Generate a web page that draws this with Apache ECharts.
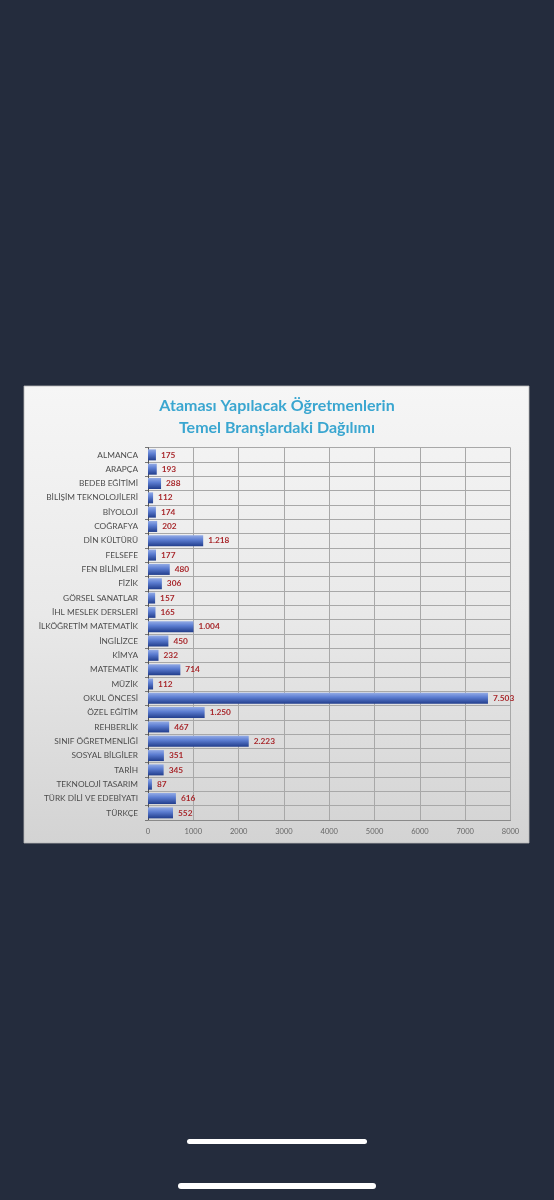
<!DOCTYPE html>
<html>
<head>
<meta charset="utf-8">
<script src="https://cdn.jsdelivr.net/npm/echarts@6/dist/echarts.min.js"></script>
<style>
html,body{margin:0;padding:0;background:#242c3d;}
#chart{width:554px;height:1200px;}
</style>
</head>
<body>
<div id="chart"></div>
<script>
const titleLines = ['Ataması Yapılacak Öğretmenlerin', 'Temel Branşlardaki Dağılımı'];
const categories = [
  'ALMANCA','ARAPÇA','BEDEB EĞİTİMİ','BİLİŞİM TEKNOLOJİLERİ','BİYOLOJİ','COĞRAFYA',
  'DİN KÜLTÜRÜ','FELSEFE','FEN BİLİMLERİ','FİZİK','GÖRSEL SANATLAR','İHL MESLEK DERSLERİ',
  'İLKÖĞRETİM MATEMATİK','İNGİLİZCE','KİMYA','MATEMATİK','MÜZİK','OKUL ÖNCESİ',
  'ÖZEL EĞİTİM','REHBERLİK','SINIF ÖĞRETMENLİĞİ','SOSYAL BİLGİLER','TARİH',
  'TEKNOLOJİ TASARIM','TÜRK DİLİ VE EDEBİYATI','TÜRKÇE'
];
const values = [175,193,288,112,174,202,1218,177,480,306,157,165,1004,450,232,714,112,7503,1250,467,2223,351,345,87,616,552];
const xMin = 0, xMax = 8000, xStep = 1000;

function trFormat(v){
  return String(v).replace(/\B(?=(\d{3})+(?!\d))/g, '.');
}

const titleGraphics = titleLines.map((t, i) => ({
  type: 'text', z: 10, silent: true,
  x: 277, y: 405.5 + i * 22,
  style: {text: t, fill: '#3aa6d0', font: 'bold 16px Lato', align: 'center', verticalAlign: 'middle'}
}));

const chart = echarts.init(document.getElementById('chart'), null, {renderer:'canvas'});
chart.setOption({
  backgroundColor: '#242c3d',
  animation: false,
  graphic: [
    {
      type: 'rect', z: -10, silent: true,
      shape: {x: 24, y: 386, width: 505, height: 457},
      style: {
        fill: {type:'linear', x:0, y:0, x2:0, y2:1, colorStops:[
          {offset:0, color:'#f6f6f6'}, {offset:0.5, color:'#e9e9e9'}, {offset:1, color:'#d3d3d3'}
        ]},
        stroke: '#b8b8b8', lineWidth: 0.8
      }
    },
    ...titleGraphics,
    {
      type: 'rect', silent: true,
      shape: {x: 187, y: 1139, width: 180, height: 5, r: 2.5},
      style: {fill: '#ffffff'}
    },
    {
      type: 'rect', silent: true,
      shape: {x: 178, y: 1183, width: 198, height: 6, r: 3},
      style: {fill: '#ffffff'}
    }
  ],
  grid: {left: 148, right: 43.5, top: 447.7, bottom: 380, containLabel: false},
  xAxis: {
    type: 'value', min: xMin, max: xMax, interval: xStep,
    axisLine: {show: true, lineStyle: {color: '#8a8a8a', width: 1}},
    axisTick: {show: false},
    splitLine: {show: true, lineStyle: {color: '#a8a8a8', width: 1}},
    axisLabel: {color: '#666', fontFamily: 'Lato', fontSize: 7.5, margin: 8, formatter: v => String(v)}
  },
  yAxis: {
    type: 'category', data: categories, inverse: true,
    axisLine: {show: true, lineStyle: {color: '#555', width: 1}},
    axisTick: {show: true, length: 3, lineStyle: {color: '#777'}},
    splitLine: {show: true, lineStyle: {color: '#a8a8a8', width: 1}},
    axisLabel: {color: '#4d4d4d', fontFamily: 'Lato', fontSize: 8.3, margin: 10}
  },
  series: [{
    type: 'bar', data: values, barWidth: 11,
    itemStyle: {
      color: {type:'linear', x:0, y:0, x2:0, y2:1, colorStops:[
        {offset:0, color:'#93abe6'}, {offset:0.4, color:'#5d7ed2'}, {offset:1, color:'#213d8c'}
      ]}
    },
    label: {
      show: true, position: 'right', distance: 5,
      color: '#a8282c', fontFamily: 'Lato', fontWeight: 'bold', fontSize: 8.3,
      formatter: p => trFormat(p.value)
    }
  }]
});
</script>
</body>
</html>
